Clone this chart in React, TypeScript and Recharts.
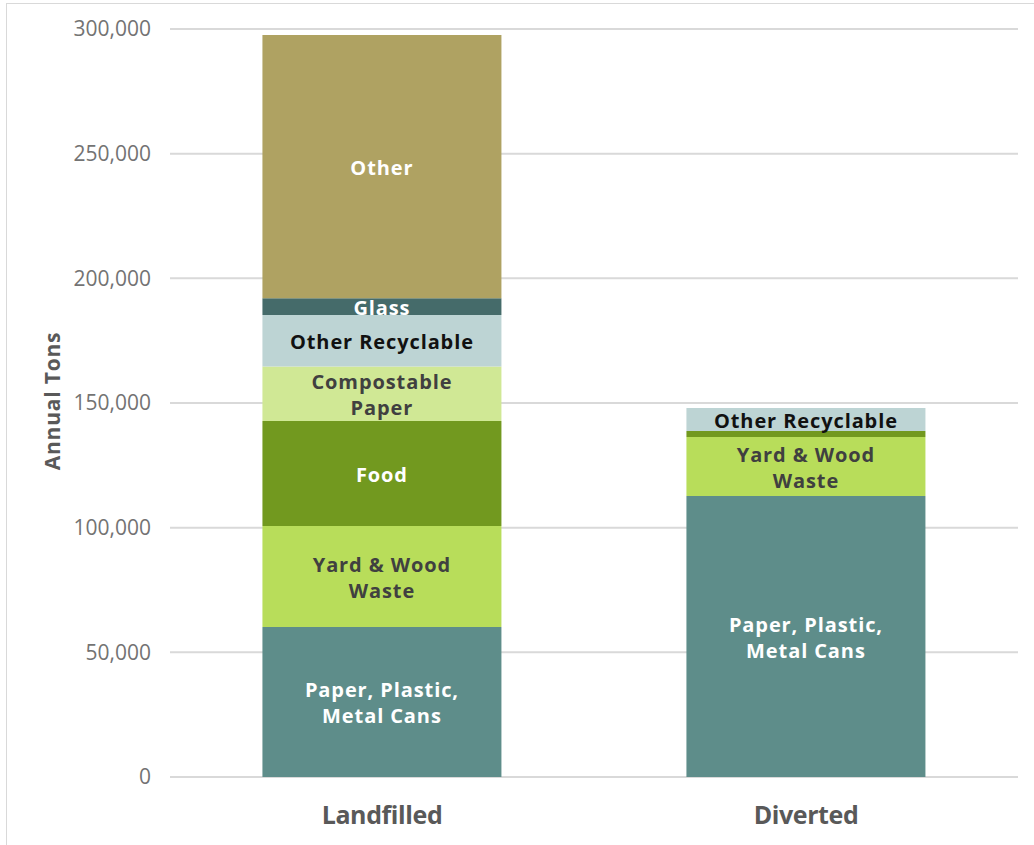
import { BarChart, Bar, XAxis, YAxis, CartesianGrid, LabelList } from "recharts";

// annual tons (bottom → top)
const categories = ["Landfilled", "Diverted"];
const paperPlasticCans = [60200, 112700];
const yardWood = [40500, 23700];
const food = [42100, 2400];
const compostablePaper = [21800, 0];
const otherRecyclable = [20700, 9200];
const glass = [6700, 0];
const other = [105600, 0];
const yTicks = [0, 50000, 100000, 150000, 200000, 250000, 300000];

const data = categories.map((name, i) => ({
  name,
  paper: paperPlasticCans[i],
  yard: yardWood[i],
  food: food[i],
  compost: compostablePaper[i],
  otherRec: otherRecyclable[i],
  glass: glass[i],
  other: other[i],
}));

const series = [
  { key: "paper", color: "#5e8d8a", text: "#ffffff", lines: ["Paper, Plastic,", "Metal Cans"] },
  { key: "yard", color: "#b8dd5a", text: "#404040", lines: ["Yard & Wood", "Waste"] },
  { key: "food", color: "#72991f", text: "#ffffff", lines: ["Food"] },
  { key: "compost", color: "#d0e895", text: "#404040", lines: ["Compostable", "Paper"] },
  { key: "otherRec", color: "#bdd4d4", text: "#111111", lines: ["Other Recyclable"] },
  { key: "glass", color: "#456b6a", text: "#ffffff", lines: ["Glass"] },
  { key: "other", color: "#afa262", text: "#ffffff", lines: ["Other"] },
];

const FONT = "'Open Sans', 'DejaVu Sans', sans-serif";

function segLabel(lines: string[], color: string) {
  return (props: any) => {
    const { x, y, width, height, value } = props;
    if (!value || value < 5000) return null;
    const cx = x + width / 2;
    const cy = y + height / 2 + 1;
    const lh = 26;
    const start = cy - ((lines.length - 1) * lh) / 2;
    return (
      <text
        textAnchor="middle"
        fontFamily={FONT}
        fontWeight={700}
        fontSize={20}
        letterSpacing={0.9}
        fill={color}
      >
        {lines.map((l, i) => (
          <tspan key={i} x={cx} y={start + i * lh} dominantBaseline="central">
            {l}
          </tspan>
        ))}
      </text>
    );
  };
}

export default function App() {
  return (
    <div style={{ position: "absolute", left: 0, top: 0, width: 1034, height: 845, background: "#fff" }}>
      <div
        style={{
          position: "absolute",
          left: 6,
          top: 3,
          width: 1040,
          height: 860,
          borderLeft: "1px solid #d9d9d9",
          borderTop: "1px solid #d9d9d9",
        }}
      />
      <div style={{ position: "absolute", left: 0, top: 0 }}>
        <BarChart
          width={1034}
          height={845}
          data={data}
          margin={{ top: 29, right: 16, bottom: 8, left: 0 }}
          barCategoryGap="21.8%"
        >
          <CartesianGrid vertical={false} stroke="#d9d9d9" strokeWidth={2} />
          <XAxis
            dataKey="name"
            height={60}
            axisLine={false}
            tickLine={false}
            tickSize={0}
            tickMargin={29}
            tick={{ fill: "#595959", fontSize: 25, fontWeight: 700, fontFamily: FONT, letterSpacing: -0.4 }}
          />
          <YAxis
            width={170}
            domain={[0, 300000]}
            ticks={yTicks}
            interval={0}
            axisLine={false}
            tickLine={false}
            tickSize={0}
            tickMargin={19}
            tickFormatter={(v: number) => v.toLocaleString("en-US")}
            tick={{ fill: "#737373", fontSize: 21, fontFamily: FONT }}
            label={{
              content: () => (
                <text
                  x={52}
                  y={401}
                  transform="rotate(-90 52 401)"
                  textAnchor="middle"
                  dominantBaseline="central"
                  fontFamily={FONT}
                  fontWeight={700}
                  fontSize={21}
                  letterSpacing={0.8}
                  fill="#595959"
                >
                  Annual Tons
                </text>
              ),
            }}
          />
          {series.map((s) => (
            <Bar key={s.key} dataKey={s.key} stackId="a" fill={s.color} isAnimationActive={false}>
              <LabelList dataKey={s.key} content={segLabel(s.lines, s.text)} />
            </Bar>
          ))}
        </BarChart>
      </div>
    </div>
  );
}
